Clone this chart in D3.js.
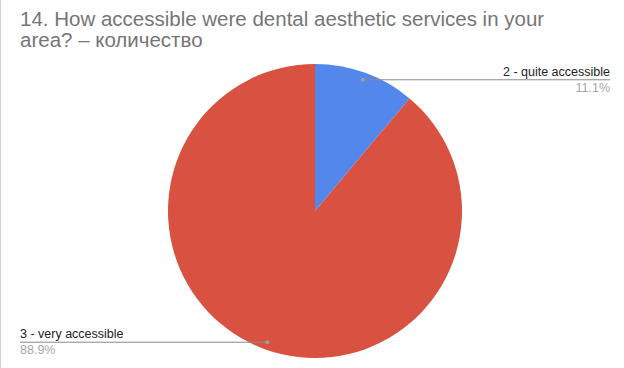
<!DOCTYPE html>
<html>
<head>
<meta charset="utf-8">
<script src="https://cdn.jsdelivr.net/npm/d3@7"></script>
<style>
  body { margin: 0; background: #fff; }
  svg { display: block; font-family: "Liberation Sans", Arial, sans-serif; }
</style>
</head>
<body>
<div id="chart"></div>
<script>
const titleLines = ["14. How accessible were dental aesthetic services in your", "area? – количество"]
const categories = ["2 - quite accessible", "3 - very accessible"]
const counts = [1, 8]
const percentLabels = ["11.1%", "88.9%"]
const colors = ["#5387eb", "#d95241"]

const width = 624, height = 368
const cx = 315, cy = 211, radius = 147

const svg = d3.select("#chart").append("svg")
    .attr("width", width)
    .attr("height", height)

// light frame edge on the left
svg.append("line")
    .attr("x1", 0.5).attr("x2", 0.5)
    .attr("y1", 0).attr("y2", height)
    .attr("stroke", "#d0d0d0")
    .attr("stroke-width", 1)

svg.append("g")
    .selectAll("text")
    .data(titleLines)
    .join("text")
    .attr("x", 20)
    .attr("y", (d, i) => 26 + i * 21)
    .attr("fill", "#757575")
    .attr("font-size", 20.5)
    .text(d => d)

const pie = d3.pie().sort(null).value(d => d)
const arcs = pie(counts)
const arc = d3.arc().innerRadius(0).outerRadius(radius)
const dotArc = d3.arc().innerRadius(radius * 0.95).outerRadius(radius * 0.95)

const g = svg.append("g").attr("transform", `translate(${cx},${cy})`)

g.selectAll("path")
    .data(arcs)
    .join("path")
    .attr("d", arc)
    .attr("fill", (d, i) => colors[i])

// leader lines and labels
const labelSide = [
    { x: 610, anchor: "end" },
    { x: 20, anchor: "start" }
]

arcs.forEach((a, i) => {
    const [px, py] = dotArc.centroid(a)
    const x0 = cx + px, y0 = cy + py
    const side = labelSide[i]
    svg.append("line")
        .attr("x1", x0).attr("y1", y0)
        .attr("x2", side.x).attr("y2", y0)
        .attr("stroke", "#8a8a8a")
        .attr("stroke-width", 1)
    svg.append("circle")
        .attr("cx", x0).attr("cy", y0)
        .attr("r", 2)
        .attr("fill", "#9e9e9e")
    svg.append("text")
        .attr("x", side.x)
        .attr("y", y0 - 4)
        .attr("text-anchor", side.anchor)
        .attr("fill", "#222")
        .attr("font-size", 12.5)
        .text(categories[i])
    svg.append("text")
        .attr("x", side.x)
        .attr("y", y0 + 12)
        .attr("text-anchor", side.anchor)
        .attr("fill", "#a6a6a6")
        .attr("font-size", 12.5)
        .text(percentLabels[i])
})
</script>
</body>
</html>
